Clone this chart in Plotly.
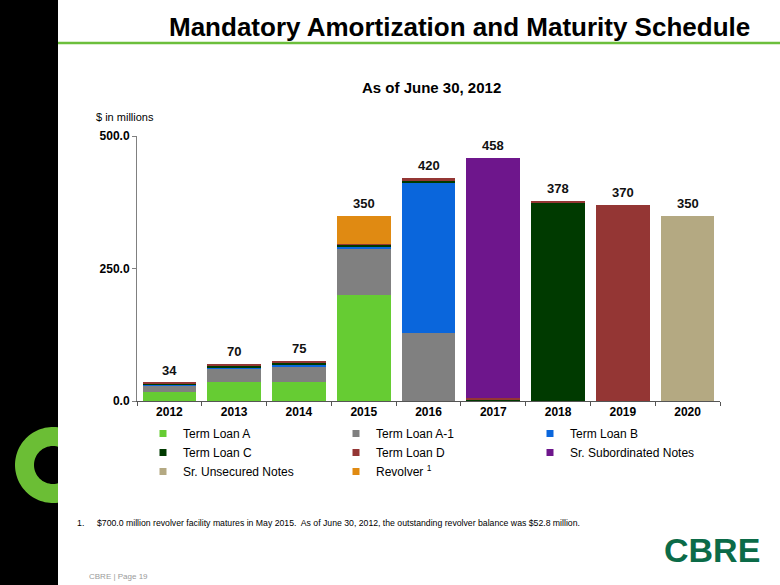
import numpy as np
import plotly.graph_objects as go

# ---------------- data ----------------
years = ["2012", "2013", "2014", "2015", "2016", "2017", "2018", "2019", "2020"]
term_loan_a = [17.5, 35, 35, 200, 0, 0, 0, 0, 0]
term_loan_a1 = [11, 26, 31, 87, 129, 0, 0, 0, 0]
term_loan_b = [2.2, 3, 2.5, 4.5, 283, 0, 0, 0, 0]
term_loan_c = [1.8, 3, 4, 3, 4, 3, 374, 0, 0]
term_loan_d = [1.5, 3, 2.5, 2.5, 4, 3, 4, 370, 0]
sr_subordinated = [0, 0, 0, 0, 0, 452, 0, 0, 0]
sr_unsecured = [0, 0, 0, 0, 0, 0, 0, 0, 350]
revolver = [0, 0, 0, 52.8, 0, 0, 0, 0, 0]
totals = [34, 70, 75, 350, 420, 458, 378, 370, 350]
y_ticks = [0, 250, 500]

series_names = ["Term Loan A", "Term Loan A-1", "Term Loan B", "Term Loan C",
                "Term Loan D", "Sr. Subordinated Notes", "Sr. Unsecured Notes",
                "Revolver <sup>1</sup>"]
series_values = [term_loan_a, term_loan_a1, term_loan_b, term_loan_c,
                 term_loan_d, sr_subordinated, sr_unsecured, revolver]
series_colors = ["#66CC33", "#808080", "#0A66DC", "#003A00",
                 "#943634", "#6E168C", "#B4A982", "#E08A12"]
legend_ids = ["legend", "legend2", "legend3", "legend",
              "legend2", "legend3", "legend", "legend2"]

# ---------------- layout geometry (pixels) ----------------
W, H = 780, 585
PL, PR, PT, PB = 137, 60, 136, 184
pw, ph = W - PL - PR, H - PT - PB


def px(x):
    return (x - PL) / pw


def py(y):
    return (H - PB - y) / ph


FONT = "Liberation Sans, Arial, sans-serif"

fig = go.Figure()

for name, vals, col in zip(series_names, series_values, series_colors):
    fig.add_trace(go.Bar(x=years, y=vals, name=name, marker=dict(color=col, line=dict(width=0)),
                         showlegend=False, hoverinfo="x+y+name"))

# legend proxies (small square symbols)
for name, col, lg in zip(series_names, series_colors, legend_ids):
    fig.add_trace(go.Scatter(x=[None], y=[None], mode="markers", name=name,
                             marker=dict(symbol="square", size=7, color=col),
                             legend=lg, showlegend=True))

# ---------------- decorations ----------------
shapes = []
# black bar on the left
shapes.append(dict(type="rect", xref="paper", yref="paper", x0=px(-2), x1=px(58),
                   y0=py(H + 5), y1=py(-5), fillcolor="black", line=dict(width=0), layer="above"))
# green rule under title
shapes.append(dict(type="line", xref="paper", yref="paper", x0=px(58), x1=px(W + 2),
                   y0=py(43), y1=py(43), line=dict(color="#6CBF3C", width=2.5), layer="above"))
# green "C" ring on black bar
cx, cy, ro, ri, xc = 53, 465, 38, 19, 58
ao = np.arccos((xc - cx) / ro)
ai = np.arccos((xc - cx) / ri)
t_out = np.linspace(ao, 2 * np.pi - ao, 60)
t_in = np.linspace(2 * np.pi - ai, ai, 40)
pts = [(cx + ro * np.cos(t), cy - ro * np.sin(t)) for t in t_out]
pts += [(cx + ri * np.cos(t), cy - ri * np.sin(t)) for t in t_in]
path = "M " + " L ".join(f"{px(a):.5f},{py(b):.5f}" for a, b in pts) + " Z"
shapes.append(dict(type="path", xref="paper", yref="paper", path=path,
                   fillcolor="#6BBE35", line=dict(width=0), layer="above"))

annotations = [
    dict(text="<b>Mandatory Amortization and Maturity Schedule</b>", x=px(752), y=py(27),
         xanchor="right", yanchor="middle", font=dict(family=FONT, size=26, color="black")),
    dict(text="<b>As of June 30, 2012</b>", x=px(431), y=py(87), xanchor="center",
         yanchor="middle", font=dict(family=FONT, size=15, color="black")),
    dict(text="$ in millions", x=px(94), y=py(117), xanchor="left", yanchor="middle",
         font=dict(family=FONT, size=11, color="black")),
    dict(text="1.", x=px(75), y=py(523), xanchor="left", yanchor="middle",
         font=dict(family=FONT, size=8.8, color="black")),
    dict(text="$700.0 million revolver facility matures in May 2015.  As of June 30, 2012, "
              "the outstanding revolver balance was $52.8 million.",
         x=px(95), y=py(523), xanchor="left", yanchor="middle",
         font=dict(family=FONT, size=8.7, color="black")),
    dict(text="CBRE | Page 19", x=px(87), y=py(576), xanchor="left", yanchor="middle",
         font=dict(family=FONT, size=8, color="#9A9A9A")),
    dict(text="<b>CBRE</b>", x=px(712), y=py(550), xanchor="center", yanchor="middle",
         font=dict(family=FONT, size=34, color="#0B6B48")),
]
for a in annotations:
    a.update(xref="paper", yref="paper", showarrow=False)

# total labels above bars (data coordinates; category index on x)
for i, tot in enumerate(totals):
    annotations.append(dict(text=f"<b>{tot}</b>", x=i, y=tot, xref="x", yref="y",
                            xanchor="center", yanchor="bottom", yshift=3, showarrow=False,
                            font=dict(family=FONT, size=13, color="#111111")))

legend_common = dict(orientation="v", xanchor="left", yanchor="top", traceorder="normal",
                     font=dict(family=FONT, size=12, color="black"), bgcolor="rgba(0,0,0,0)",
                     borderwidth=0, itemwidth=30, tracegroupgap=0)

fig.update_layout(
    width=W, height=H,
    margin=dict(l=PL, r=PR, t=PT, b=PB, pad=0),
    paper_bgcolor="white", plot_bgcolor="white",
    barmode="stack", bargap=0.17,
    font=dict(family=FONT, color="black"),
    shapes=shapes, annotations=annotations,
    legend=dict(x=px(143), y=py(419), **legend_common),
    legend2=dict(x=px(336), y=py(419), **legend_common),
    legend3=dict(x=px(530), y=py(419), **legend_common),
    xaxis=dict(type="category", categoryorder="array", categoryarray=years,
               range=[-0.5, len(years) - 0.5], showline=True, linecolor="#555555", linewidth=1,
               ticks="outside", tickson="boundaries", ticklen=4, tickcolor="#555555",
               tickfont=dict(family=FONT, size=12, color="black", weight="bold"),
               showgrid=False, zeroline=False, fixedrange=True),
    yaxis=dict(range=[0, 500], tickvals=y_ticks, tickformat=".1f", showline=True,
               linecolor="#808080", linewidth=1, ticks="outside", ticklen=4,
               tickcolor="#808080", showgrid=False, zeroline=False,
               tickfont=dict(family=FONT, size=12, color="black", weight="bold"),
               fixedrange=True),
)

fig.write_html("out.html", config={"displayModeBar": False},
               post_script="document.body.style.margin='0';document.body.style.overflow='hidden';")
